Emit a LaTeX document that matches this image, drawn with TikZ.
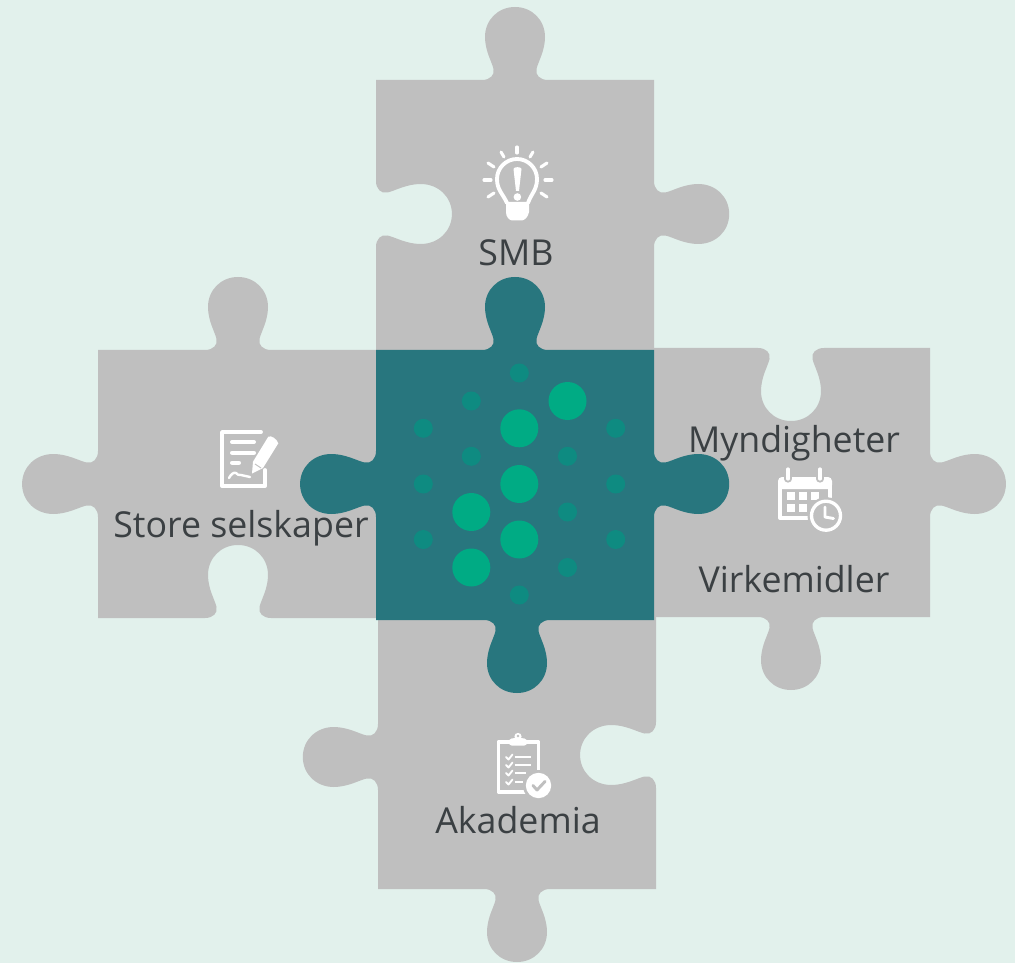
\documentclass[tikz,border=0pt]{standalone}
\usepackage{fontspec}
\setmainfont{Open Sans}
\definecolor{bgc}{HTML}{E2F1EC}
\definecolor{grayp}{HTML}{BFBFBF}
\definecolor{tealp}{HTML}{28767E}
\definecolor{greenb}{HTML}{00AB84}
\definecolor{greens}{HTML}{0E8B81}
\definecolor{txt}{HTML}{3B4043}
\newcommand\tabp[4]{{[shift={(#1,-#2)},rotate=#3,yscale=#4]
 -- (-33,0) .. controls (-25,0) and (-20,5) .. (-21.5,11)
 .. controls (-23,18) and (-30,29) .. (-30,43)
 .. controls (-30,60) and (-17,73) .. (0,73)
 .. controls (17,73) and (30,60) .. (30,43)
 .. controls (30,29) and (23,18) .. (21.5,11)
 .. controls (20,5) and (25,0) .. (33,0)}}
\tikzset{
 x=0.75pt,y=0.75pt,
 piece/.style={fill=grayp,draw=none},
 label/.style={text=txt,font=\fontsize{26.8}{30}\selectfont,inner sep=0pt,anchor=base},
 big/.style={fill=greenb,draw=none},
 small/.style={fill=greens,draw=none},
 ico/.style={draw=white,line width=2.9pt,line cap=round,line join=round},
 icofine/.style={draw=white,line width=1.7pt,line cap=round,line join=round},
 icof/.style={fill=white,draw=none},
}
\begin{document}
\begin{tikzpicture}
\useasboundingbox (0,0) rectangle (1015,-963);
\fill[bgc] (0,0) rectangle (1015,-963);
% SMB
\path[piece] (376,-80) \tabp{515}{80}{0}{1} -- (654,-80) \tabp{654}{214}{-90}{1.03} -- (654,-354) -- (376,-354) \tabp{376}{214}{90}{-1.04} -- cycle;
% Store selskaper
\path[piece] (98,-350) \tabp{238}{350}{0}{1} -- (380,-350) -- (380,-618) -- (271,-618) \tabp{238}{618}{180}{-1} -- (98,-618) \tabp{98}{484}{90}{1.04} -- cycle;
% Myndigheter
\path[piece] (650,-348) \tabp{791}{348}{0}{-1} -- (930,-348) \tabp{930}{484}{-90}{1.04} -- (930,-617) \tabp{791}{617}{180}{1} -- (650,-617) -- cycle;
% Akademia
\path[piece] (378,-616) -- (656,-616) \tabp{656}{755}{-90}{-1.04} -- (656,-889) \tabp{517}{889}{180}{1} -- (378,-889) \tabp{378}{757}{90}{1.03} -- cycle;
% centre
\path[fill=tealp] (376,-350) \tabp{515}{350}{0}{1} -- (654,-350) \tabp{654}{484}{-90}{1.03} -- (654,-620) \tabp{517}{620}{180}{1} -- (376,-620) \tabp{376}{484}{90}{1.04} -- cycle;
% dots
\foreach \cx/\cy in {519.3/428.3,567.5/401,519.3/484,471.3/512,519.3/539.5,471.3/567.5}
  \fill[big] (\cx,-\cy) circle (19);
\foreach \cx/\cy in {519.3/373,471.3/401,423.3/428.3,615.7/428.3,471.3/456.3,567.5/456.3,423.3/484,615.7/484,567.5/512,423.3/539.5,615.7/539.5,567.5/567.5,519.3/595}
  \fill[small] (\cx,-\cy) circle (9.5);
% bulb icon
\draw[ico] (507,-203) .. controls (503,-194) and (497,-190) .. (497,-179) .. controls (497,-168) and (506,-159) .. (517,-159) .. controls (528,-159) and (537,-168) .. (537,-179) .. controls (537,-190) and (531,-194) .. (528,-203);
\fill[icof] (506,-202) -- (529,-202) -- (529,-212) .. controls (528,-217) and (525,-220) .. (522,-220.5) -- (512,-220.5) .. controls (509,-220) and (506,-217) .. (506,-212) -- cycle;
\fill[icof] (513.5,-169) .. controls (513.5,-166.5) and (521.5,-166.5) .. (521.5,-169) -- (519,-191) -- (516,-191) -- cycle;
\fill[icof] (517.4,-197) circle (3.8);
\foreach \ax/\ay/\bx/\by in {517/147/517/153,501/152/504/157,533/152/530/157,488/163/494/167,547/163/541/167,484/180/491/180,545/180/552/180,488/197/494/193,547/197/541/193}
  \draw[white,line width=2.3pt,line cap=round] (\ax,-\ay) -- (\bx,-\by);
% document icon
\draw[ico] (261,-432) -- (222,-432) -- (222,-486) -- (265,-486) -- (265,-470);
\foreach \ax/\bx/\yy in {232/254/442,232/254/452.7,232/239/462.7}
  \draw[white,line width=3pt,line cap=round] (\ax,-\yy) -- (\bx,-\yy);
\draw[white,line width=1.8pt,line cap=round,line join=round] (229,-478) .. controls (231,-474) and (234,-472) .. (236,-473) .. controls (238,-474) and (238,-476) .. (241,-475) -- (250,-477);
\fill[icof] (268.3,-436.7) .. controls (271,-435) and (277,-439) .. (278.3,-443.3) -- (263,-468) -- (252,-473.5) -- (253,-461.7) -- cycle;
\draw[grayp,line width=0.7pt] (255,-464) -- (261,-468);
% calendar icon
\draw[ico] (780,-483) -- (780,-518) -- (820,-518);
\draw[ico] (830,-483) -- (830,-497);
\fill[icof,rounded corners=3] (778,-477) rectangle (832,-489);
\foreach \rx in {788,820}{
 \draw[grayp,line width=5.4pt,line cap=round] (\rx,-469) -- (\rx,-479);
 \draw[white,line width=2.4pt,line cap=round] (\rx,-469) -- (\rx,-479);
}
\foreach \sx/\sy in {787/492,798.5/492,810.5/492,787/504,798.5/504}
  \fill[icof] (\sx,-\sy) rectangle ++(8,-8);
\fill[grayp] (826,-515.7) circle (18.5);
\draw[white,line width=2.5pt] (826,-515.7) circle (14.5);
\draw[white,line width=2.2pt,line cap=round,line join=round] (825,-507) -- (825,-517) -- (833.5,-518.5);
% clipboard icon
\draw[ico] (510,-742) -- (498.5,-742) -- (498.5,-792) -- (538.5,-792) -- (538.5,-742) -- (526,-742);
\fill[icof,rounded corners=2] (509,-745.5) -- (509,-739) -- (514,-738) -- (522,-738) -- (527,-739) -- (527,-745.5) -- cycle;
\fill[icof] (518,-736.5) circle (3.6);
\fill[grayp] (518,-736) circle (1.3);
\foreach \yy/\lx in {757/531,765/531,773/526,782/523}{
 \draw[icofine,line width=1.4pt] (506,-\yy) -- (508.5,-\yy-2.5) -- (512.5,-\yy+2.5);
 \draw[white,line width=1.8pt] (514.5,-\yy) -- (\lx,-\yy);
}
\fill[grayp] (538.5,-785.5) circle (15.5);
\fill[icof] (538.5,-785.5) circle (12.7);
\draw[grayp,line width=2.2pt,line cap=round,line join=round] (533,-785.5) -- (537,-790) -- (545,-781.5);
% labels
\node[label] (smb) at (516,-266) {SMB};
\node[label] (store) at (241,-537) {Store selskaper};
\node[label] (mynd) at (794,-452) {Myndigheter};
\node[label] (virk) at (794,-592) {Virkemidler};
\node[label] (aka) at (518,-833) {Akademia};
\end{tikzpicture}
\end{document}
